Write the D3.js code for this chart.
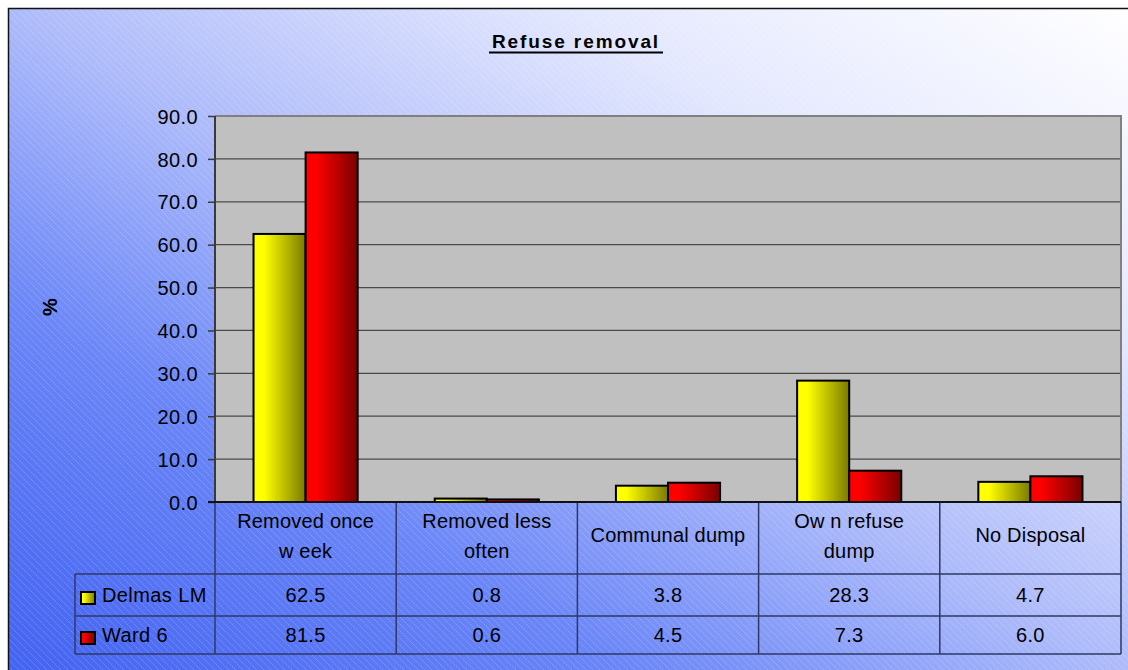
<!DOCTYPE html>
<html>
<head>
<meta charset="utf-8">
<script src="https://cdn.jsdelivr.net/npm/d3@7"></script>
<style>
  html, body { margin: 0; padding: 0; background: #ffffff; }
  svg { display: block; }
  text { font-family: "Liberation Sans", Arial, sans-serif; fill: #000; }
</style>
</head>
<body>
<svg id="chart" width="1128" height="670"></svg>
<script>
// Refuse removal: share of households (%) by method
const categories = ["Removed once week", "Removed less often", "Communal dump", "Own refuse dump", "No Disposal"];
const categoryLines = [["Removed once", "w eek"], ["Removed less", "often"], ["Communal dump"], ["Ow n refuse", "dump"], ["No Disposal"]];
const seriesNames = ["Delmas LM", "Ward 6"];
const delmasLM = [62.5, 0.8, 3.8, 28.3, 4.7];
const ward6 = [81.5, 0.6, 4.5, 7.3, 6.0];
const yTicks = [0, 10, 20, 30, 40, 50, 60, 70, 80, 90];
const chartTitle = "Refuse removal";
const yTitle = "%";

const seriesValues = [delmasLM, ward6];
const FS = 20;

const svg = d3.select("#chart");
const defs = svg.append("defs");

// background: diagonal blue-to-white wash with fine diagonal hatching
const bg = defs.append("linearGradient").attr("id", "bgGrad")
  .attr("x1", "0").attr("y1", "1").attr("x2", "1").attr("y2", "0");
[[0, "#4262f2"], [0.28, "#6a86f8"], [0.5, "#aebbfb"], [0.75, "#e4e8fe"], [1, "#ffffff"]]
  .forEach(([o, c]) => bg.append("stop").attr("offset", o).attr("stop-color", c));

const hatch = defs.append("pattern").attr("id", "hatch")
  .attr("patternUnits", "userSpaceOnUse").attr("width", 7).attr("height", 7);
hatch.append("path").attr("d", "M-1,-1 L8,8 M-1,6 L1,8 M6,-1 L8,1")
  .attr("stroke", "#ffffff").attr("stroke-opacity", 0.28).attr("stroke-width", 0.9)
  .attr("stroke-dasharray", "2,1");

// bar fills: bright left fading to dark right
function barGradient(id, light, dark) {
  const g = defs.append("linearGradient").attr("id", id)
    .attr("x1", "0").attr("y1", "0").attr("x2", "1").attr("y2", "0");
  g.append("stop").attr("offset", 0).attr("stop-color", light);
  g.append("stop").attr("offset", 0.2).attr("stop-color", light);
  g.append("stop").attr("offset", 1).attr("stop-color", dark);
}
barGradient("gradYellow", "#ffff00", "#7a7a00");
barGradient("gradRed", "#ff0000", "#7a0000");
const fills = ["url(#gradYellow)", "url(#gradRed)"];

// frame
svg.append("rect").attr("x", 8).attr("y", 8).attr("width", 1130).attr("height", 670)
  .attr("fill", "url(#bgGrad)");
svg.append("rect").attr("x", 8).attr("y", 8).attr("width", 1130).attr("height", 670)
  .attr("fill", "url(#hatch)");
svg.append("path").attr("d", "M8.5,670 V8.5 H1128")
  .attr("fill", "none").attr("stroke", "#111").attr("stroke-width", 1.5);

// scales
const plotLeft = 215, plotRight = 1121, plotTop = 116, plotBottom = 502;
const x0 = d3.scaleBand().domain(categories).range([plotLeft, plotRight]).paddingInner(0).paddingOuter(0);
const x1 = d3.scaleBand().domain(seriesNames).range([0, x0.bandwidth()]).paddingInner(0).paddingOuter(0.74);
const y = d3.scaleLinear().domain([0, 90]).range([plotBottom, plotTop]);

// plot area
svg.append("rect").attr("x", plotLeft).attr("y", plotTop)
  .attr("width", plotRight - plotLeft).attr("height", plotBottom - plotTop)
  .attr("fill", "#c0c0c0");

// gridlines
svg.append("g").selectAll("line").data(yTicks.filter(t => t > 0 && t < 90)).join("line")
  .attr("x1", plotLeft).attr("x2", plotRight)
  .attr("y1", d => y(d)).attr("y2", d => y(d))
  .attr("stroke", "#4a4a4a").attr("stroke-width", 1.2);

// plot border (top and right)
svg.append("path")
  .attr("d", `M${plotLeft},${y(90)} H${plotRight} V${plotBottom}`)
  .attr("fill", "none").attr("stroke", "#808080").attr("stroke-width", 2);

// bars
const groups = svg.append("g").selectAll("g").data(categories).join("g")
  .attr("transform", d => `translate(${x0(d)},0)`);
groups.selectAll("rect")
  .data((d, i) => seriesNames.map((s, j) => ({ s, j, v: seriesValues[j][i] })))
  .join("rect")
  .attr("x", d => x1(d.s))
  .attr("width", x1.bandwidth())
  .attr("y", d => y(d.v))
  .attr("height", d => y(0) - y(d.v))
  .attr("fill", d => fills[d.j])
  .attr("stroke", "#000").attr("stroke-width", 2);

// y axis
const yAxis = d3.axisLeft(y).tickValues(yTicks).tickFormat(d => d.toFixed(1)).tickSize(7).tickPadding(10);
const gy = svg.append("g").attr("transform", `translate(${plotLeft},0)`).call(yAxis);
gy.select(".domain").attr("stroke", "#3a3a3a").attr("stroke-width", 2).attr("d", `M0,${y(90)}V${y(0)}`);
gy.selectAll(".tick line").attr("stroke", "#3a3a3a").attr("stroke-width", 1.5);
gy.selectAll(".tick text")
  .attr("font-family", "'Liberation Sans', Arial, sans-serif")
  .attr("font-size", FS).attr("letter-spacing", 0.4).attr("fill", "#000").attr("dy", "0.36em");

// axis title
svg.append("text").attr("transform", "translate(57,307) rotate(-90)")
  .attr("text-anchor", "middle").attr("font-size", FS).attr("font-weight", "bold").text(yTitle);

// title with underline
svg.append("text").attr("x", 576).attr("y", 48)
  .attr("text-anchor", "middle").attr("font-size", 19).attr("font-weight", "bold")
  .attr("letter-spacing", 1.9).text(chartTitle);
svg.append("line").attr("x1", 489).attr("x2", 663).attr("y1", 52.5).attr("y2", 52.5)
  .attr("stroke", "#000").attr("stroke-width", 2);

// data table
const rowTop = plotBottom, headerBottom = 574, row1Bottom = 616, row2Bottom = 654, tableLeft = 75;
const lineColor = "#2e3864";
const tbl = svg.append("g").attr("stroke", lineColor).attr("stroke-width", 1.5).attr("fill", "none");
const bounds = categories.map(c => x0(c)).concat([plotRight]);
tbl.selectAll("line.v").data(bounds).join("line")
  .attr("x1", d => d).attr("x2", d => d).attr("y1", rowTop).attr("y2", row2Bottom);
tbl.append("line").attr("x1", tableLeft).attr("x2", tableLeft).attr("y1", headerBottom).attr("y2", row2Bottom);
[headerBottom, row1Bottom, row2Bottom].forEach(yy =>
  tbl.append("line").attr("x1", tableLeft).attr("x2", plotRight).attr("y1", yy).attr("y2", yy));
svg.append("line").attr("x1", plotLeft - 7).attr("x2", plotRight).attr("y1", plotBottom).attr("y2", plotBottom)
  .attr("stroke", "#111").attr("stroke-width", 2);

// category header cells
const cx = c => x0(c) + x0.bandwidth() / 2;
categories.forEach((c, i) => {
  const lines = categoryLines[i];
  const base = lines.length === 2 ? 528 : 542;
  lines.forEach((ln, k) => {
    svg.append("text").attr("x", cx(c)).attr("y", base + k * 29.5)
      .attr("text-anchor", "middle").attr("font-size", FS).attr("letter-spacing", 0.2).text(ln);
  });
});

// value rows with legend keys
const rowBaselines = [602, 641.5];
const keyTops = [592, 632];
seriesNames.forEach((s, j) => {
  svg.append("rect").attr("x", 81).attr("y", keyTops[j]).attr("width", 14).attr("height", 12)
    .attr("fill", fills[j]).attr("stroke", "#000").attr("stroke-width", 2);
  svg.append("text").attr("x", 102).attr("y", rowBaselines[j])
    .attr("font-size", FS).attr("letter-spacing", 0.4).text(s);
  categories.forEach((c, i) => {
    svg.append("text").attr("x", cx(c)).attr("y", rowBaselines[j])
      .attr("text-anchor", "middle").attr("font-size", FS).attr("letter-spacing", 0.3)
      .text(seriesValues[j][i].toFixed(1));
  });
});
</script>
</body>
</html>
